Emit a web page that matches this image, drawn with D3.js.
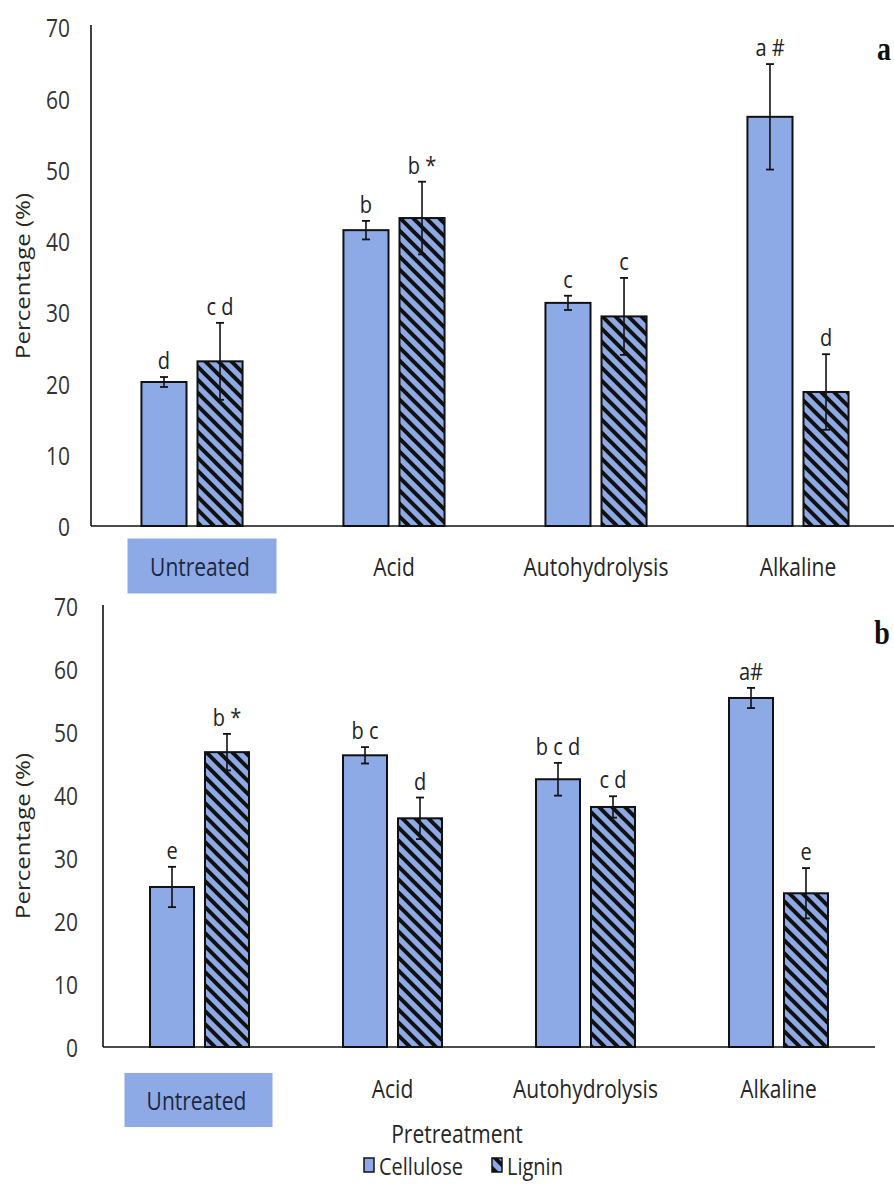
<!DOCTYPE html>
<html>
<head>
<meta charset="utf-8">
<script src="https://cdn.jsdelivr.net/npm/d3@7"></script>
<style>
  html, body { margin: 0; padding: 0; background: #fff; }
  svg { display: block; font-family: "Open Sans", "Noto Sans", sans-serif; }
</style>
</head>
<body>
<script>
// ---- data ----
const categories = ["Untreated", "Acid", "Autohydrolysis", "Alkaline"];
const seriesNames = ["Cellulose", "Lignin"];
const yTicks = [0, 10, 20, 30, 40, 50, 60, 70];

// panel a
const celluloseA = [20.2, 41.5, 31.3, 57.4];
const celluloseErrA = [0.7, 1.3, 1.0, 7.4];
const ligninA = [23.1, 43.2, 29.4, 18.8];
const ligninErrA = [5.4, 5.1, 5.4, 5.3];
const celluloseLettersA = ["d", "b", "c", "a #"];
const ligninLettersA = ["c d", "b *", "c", "d"];

// panel b
const celluloseB = [25.4, 46.3, 42.5, 55.4];
const celluloseErrB = [3.2, 1.3, 2.6, 1.6];
const ligninB = [46.8, 36.3, 38.1, 24.4];
const ligninErrB = [2.9, 3.3, 1.7, 4.0];
const celluloseLettersB = ["e", "b c", "b c d", "a#"];
const ligninLettersB = ["b *", "d", "c d", "e"];

// ---- styling ----
const W = 894, H = 1184;
const SY = 1.2;            // vertical stretch applied to all text
const BLUE = "#8eaae6";
const INK = "#111";
const TXT = "#262626";
const SANS = '"Open Sans", "Noto Sans", sans-serif';
const SERIF = '"Liberation Serif", "DejaVu Serif", serif';

const svg = d3.select("body").append("svg").attr("width", W).attr("height", H);
svg.append("rect").attr("width", W).attr("height", H).attr("fill", "#fff");

const defs = svg.append("defs");
const pat = defs.append("pattern").attr("id", "hatch")
  .attr("patternUnits", "userSpaceOnUse").attr("width", 13).attr("height", 13);
pat.append("rect").attr("width", 13).attr("height", 13).attr("fill", BLUE);
pat.append("path").attr("d", "M-2,-2 L15,15 M-3,10 L3,16 M10,-3 L16,3")
  .attr("stroke", INK).attr("stroke-width", 4).attr("fill", "none");

function stretchedText(parent, x, y, str, o = {}) {
  const g = parent.append("g").attr("transform", `translate(${x},${y}) scale(1,${SY})${o.rotate ? " rotate(-90)" : ""}`);
  return g.append("text")
    .attr("text-anchor", o.anchor || "middle")
    .attr("dominant-baseline", o.baseline || "auto")
    .style("font-size", (o.size || 21) + "px")
    .style("font-family", o.family || SANS)
    .style("font-weight", o.weight || "normal")
    .attr("fill", o.fill || TXT)
    .text(str);
}

function drawPanel(p) {
  const g = svg.append("g");
  const x = d3.scaleBand().domain(categories).range([p.x0, p.x1]).padding(0);
  const xs = d3.scaleBand().domain(seriesNames).range([0, x.bandwidth()])
    .paddingInner(p.innerPad).paddingOuter(p.outerPad);
  const y = d3.scaleLinear().domain([0, 70]).range([p.yBase, p.yTop]);

  const rows = categories.map((c, i) => ([
    { cat: c, s: "Cellulose", v: p.cel[i], e: p.celErr[i], lab: p.celLab[i] },
    { cat: c, s: "Lignin", v: p.lig[i], e: p.ligErr[i], lab: p.ligLab[i] }
  ])).flat();

  // y axis
  const yAxis = g.append("g").attr("transform", `translate(${p.x0},0)`)
    .call(d3.axisLeft(y).tickValues(yTicks).tickSize(0).tickSizeOuter(0).tickPadding(p.x0 - p.tickX));
  yAxis.select(".domain").attr("stroke", INK).attr("stroke-width", 1.6)
    .attr("d", `M0,${p.axisTop}V${p.yBase}`);
  yAxis.selectAll(".tick text")
    .style("font-size", "21px").style("font-family", SANS)
    .attr("fill", "#333").attr("dy", null).attr("dominant-baseline", "central")
    .attr("transform", `scale(1,${SY})`);

  // bars
  g.selectAll("rect.bar").data(rows).join("rect")
    .attr("class", "bar")
    .attr("x", d => x(d.cat) + xs(d.s))
    .attr("width", xs.bandwidth())
    .attr("y", d => y(d.v))
    .attr("height", d => y(0) - y(d.v))
    .attr("fill", d => d.s === "Lignin" ? "url(#hatch)" : BLUE)
    .attr("stroke", INK).attr("stroke-width", 2);

  // error bars
  const eb = g.selectAll("g.err").data(rows).join("g").attr("class", "err")
    .attr("transform", d => `translate(${x(d.cat) + xs(d.s) + xs.bandwidth() / 2},0)`);
  eb.append("line").attr("y1", d => y(d.v + d.e)).attr("y2", d => y(d.v - d.e))
    .attr("stroke", INK).attr("stroke-width", 1.6);
  eb.append("line").attr("x1", -4).attr("x2", 4).attr("y1", d => y(d.v + d.e)).attr("y2", d => y(d.v + d.e))
    .attr("stroke", INK).attr("stroke-width", 1.8);
  eb.append("line").attr("x1", -4).attr("x2", 4).attr("y1", d => y(d.v - d.e)).attr("y2", d => y(d.v - d.e))
    .attr("stroke", INK).attr("stroke-width", 1.8);

  // significance letters
  rows.forEach(d => {
    stretchedText(g, x(d.cat) + xs(d.s) + xs.bandwidth() / 2, y(d.v + d.e) - 8, d.lab,
      { size: 20, fill: "#222" });
  });

  // x axis
  const xAxis = g.append("g").attr("transform", `translate(0,${p.yBase})`)
    .call(d3.axisBottom(x).tickSize(0).tickSizeOuter(0));
  xAxis.select(".domain").attr("stroke", INK).attr("stroke-width", 1.6)
    .attr("d", `M${p.x0},0H${p.axisEnd}`);
  xAxis.selectAll(".tick").each(function (c) {
    const t = d3.select(this);
    const off = c === "Untreated" ? p.untreatedOff : p.catOff;
    t.select("text").remove();
    if (c === "Untreated") {
      t.append("rect").attr("x", p.boxDx - p.boxW / 2).attr("y", off - p.boxH / 2)
        .attr("width", p.boxW).attr("height", p.boxH).attr("fill", BLUE);
    }
    stretchedText(t, c === "Untreated" ? p.boxDx - 2 : 0, off, c,
      { baseline: "central", size: 21, fill: c === "Untreated" ? "#1c2740" : TXT });
  });

  // y label
  stretchedText(g, p.yLabX, p.yLabY, "Percentage (%)",
    { rotate: true, baseline: "central", size: 20 });

  // panel tag
  stretchedText(g, p.tagX, p.tagY, p.tag,
    { size: 28, weight: "bold", family: SERIF, fill: "#111" });
}

drawPanel({
  cel: celluloseA, celErr: celluloseErrA, lig: ligninA, ligErr: ligninErrA,
  celLab: celluloseLettersA, ligLab: ligninLettersA,
  x0: 91, x1: 899, axisEnd: 894, yTop: 27, yBase: 526, axisTop: 25,
  innerPad: 0.196, outerPad: 0.9, tickX: 70,
  catOff: 40, untreatedOff: 40, boxDx: 10, boxW: 149, boxH: 55,
  yLabX: 22, yLabY: 276, tag: "a", tagX: 884, tagY: 60
});

drawPanel({
  cel: celluloseB, celErr: celluloseErrB, lig: ligninB, ligErr: ligninErrB,
  celLab: celluloseLettersB, ligLab: ligninLettersB,
  x0: 103, x1: 875, axisEnd: 875, yTop: 606, yBase: 1047, axisTop: 605,
  innerPad: 0.2, outerPad: 0.855, tickX: 78,
  catOff: 41, untreatedOff: 53, boxDx: -1, boxW: 148, boxH: 54,
  yLabX: 22, yLabY: 836, tag: "b", tagX: 882, tagY: 644
});

// axis title and legend
stretchedText(svg, 457, 1133, "Pretreatment", { baseline: "central", size: 21 });

const legend = svg.append("g");
const legendX = [364, 492];
seriesNames.forEach((s, i) => {
  legend.append("rect").attr("x", legendX[i]).attr("y", 1158).attr("width", 10).attr("height", 14)
    .attr("fill", s === "Lignin" ? "url(#hatch)" : BLUE).attr("stroke", INK).attr("stroke-width", 1.5);
  stretchedText(legend, legendX[i] + 15, 1165, s, { anchor: "start", baseline: "central", size: 20 });
});
</script>
</body>
</html>
